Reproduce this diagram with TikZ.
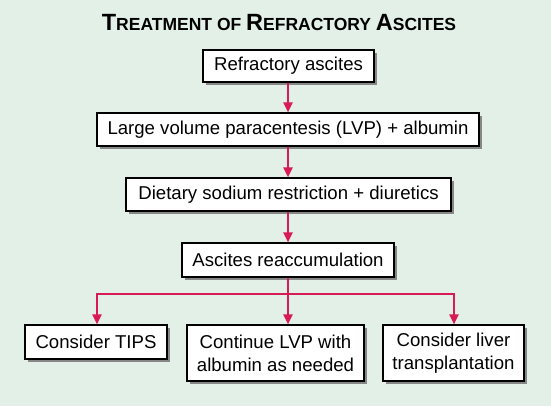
\documentclass[tikz,border=0pt]{standalone}
\usepackage{fontspec}
\setmainfont{Liberation Sans}
\usetikzlibrary{arrows.meta,shadows}
\definecolor{bg}{RGB}{226,240,231}
\definecolor{arrred}{RGB}{216,27,84}
\definecolor{shadowgray}{RGB}{135,135,135}
\begin{document}
\begin{tikzpicture}[x=1pt,y=-1pt,
  box/.style={draw=black,line width=1.1pt,fill=white,rectangle,inner sep=0pt,
    font=\fontsize{18.6}{23}\selectfont,align=center,
    drop shadow={shadow xshift=3pt,shadow yshift=-3pt,fill=shadowgray,opacity=1}},
  arr/.style={draw=arrred,line width=2.2pt,-{Triangle[width=9pt,length=10pt]}},
]
\path[fill=bg] (0,0) rectangle (551,406);
\useasboundingbox (0,0) rectangle (551,406);

\node[anchor=base,inner sep=0pt,font=\bfseries] (title) at (279,31)
  {{\fontsize{23.5}{28}\selectfont T}{\fontsize{17.5}{28}\selectfont REATMENT OF }{\fontsize{23.5}{28}\selectfont R}{\fontsize{17.5}{28}\selectfont EFRACTORY }{\fontsize{23.5}{28}\selectfont A}{\fontsize{17.5}{28}\selectfont SCITES}};

\node[box,minimum width=171pt,minimum height=32pt] (b1) at (288.5,66) {Refractory ascites};
\node[box,minimum width=382pt,minimum height=33pt] (b2) at (288,129.5) {Large volume paracentesis (LVP) + albumin};
\node[box,minimum width=325pt,minimum height=33pt] (b3) at (288.5,194.5) {Dietary sodium restriction + diuretics};
\node[box,minimum width=212pt,minimum height=34pt] (b4) at (288,260) {Ascites reaccumulation};
\node[box,minimum width=142pt,minimum height=34pt] (b5) at (96,342) {Consider TIPS};
\node[box,minimum width=177pt,minimum height=56pt] (b6) at (275.5,353) {Continue LVP with\\albumin as needed};
\node[box,minimum width=141pt,minimum height=56pt] (b7) at (453.5,353) {Consider liver\\transplantation};

\coordinate (br) at (288,294);

\draw[arr] (b1.south -| 288,0) -- (b2.north -| 288,0);
\draw[arr] (b2.south -| 288,0) -- (b3.north -| 288,0);
\draw[arr] (b3.south -| 288,0) -- (b4.north -| 288,0);
\draw[arr] (b4.south -| br) -- (b6.north -| br);
\draw[arr] (br) -| (b5.north -| 97,0);
\draw[arr] (br) -| (b7.north -| 454,0);
\end{tikzpicture}
\end{document}
